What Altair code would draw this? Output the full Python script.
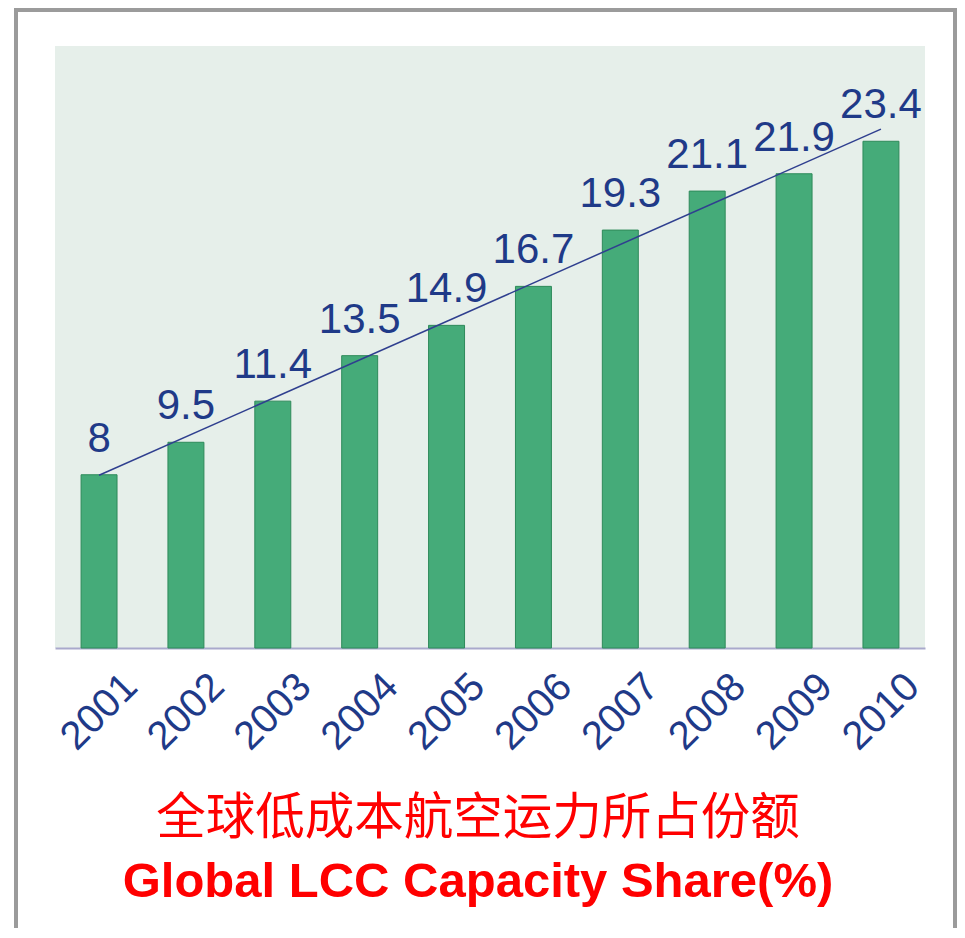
import altair as alt
import pandas as pd

years = [2001, 2002, 2003, 2004, 2005, 2006, 2007, 2008, 2009, 2010]
shares = [8, 9.5, 11.4, 13.5, 14.9, 16.7, 19.3, 21.1, 21.9, 23.4]
title_cn = "全球低成本航空运力所占份额"
title_en = "Global LCC Capacity Share(%)"

df = pd.DataFrame({"year": years, "share": shares})

NAVY = "#1F3A88"
FRAME = "#9B9B9B"
x_enc = alt.X(
    "year:O",
    title=None,
    scale=alt.Scale(paddingInner=0.586, paddingOuter=0.3),
    axis=alt.Axis(
        labelAngle=-45,
        labelAlign="right",
        labelBaseline="middle",
        labelFont="Liberation Sans",
        labelFontSize=40,
        labelColor=NAVY,
        labelOffset=32,
        labelPadding=32,
        labelOverlap=False,
        labelFlush=False,
        ticks=False,
        domainColor="#A9A9CC",
        domainWidth=2,
        grid=False,
    ),
)
y_enc = alt.Y("share:Q", scale=alt.Scale(domain=[0, 27.8]), axis=None)

one = alt.Data(values=[{"f": 1}])
frame_left = alt.Chart(one).mark_rule(stroke=FRAME, strokeWidth=4).encode(
    x=alt.value(-39), y=alt.value(-38), y2=alt.value(900)
)
frame_right = alt.Chart(one).mark_rule(stroke=FRAME, strokeWidth=4).encode(
    x=alt.value(900), y=alt.value(-38), y2=alt.value(900)
)
frame_top = alt.Chart(one).mark_rule(stroke=FRAME, strokeWidth=4).encode(
    x=alt.value(-41), x2=alt.value(902), y=alt.value(-36)
)

base = alt.Chart(df)
bars = base.mark_bar(color="#45AB79", stroke="#2E8A5A", strokeWidth=1).encode(
    x=x_enc, y=y_enc
)
labels = base.mark_text(
    dy=-23, baseline="alphabetic", font="Liberation Sans", fontSize=42, color=NAVY
).encode(x=x_enc, y=y_enc, text=alt.Text("share:Q"))

trend = base.transform_regression("year", "share", method="linear").mark_line(
    color="#2F3F8F", strokeWidth=1.5
).encode(x=x_enc, y=y_enc)

chart = (
    alt.layer(frame_left, frame_right, frame_top, bars, labels, trend)
    .properties(
        width=870,
        height=602,
        autosize=alt.AutoSizeParams(type="none"),
        padding={"left": 47, "top": 38, "right": 32, "bottom": 280},
        title=alt.TitleParams(
            text=title_cn,
            subtitle=title_en,
            orient="bottom",
            anchor="middle",
            frame="group",
            offset=-153,
            dx=-12,
            baseline="top",
            font="Noto Sans CJK SC",
            fontSize=49.5,
            fontWeight="normal",
            color="#FF0000",
            subtitleFont="Liberation Sans",
            subtitleFontSize=49,
            subtitleFontWeight="bold",
            subtitleColor="#FF0000",
            subtitlePadding=13,
        ),
    )
    .configure(background="white")
    .configure_view(fill="#E6EFEA", stroke=None)
)

chart.save("out.html", embed_options={"renderer": "svg", "actions": False})
